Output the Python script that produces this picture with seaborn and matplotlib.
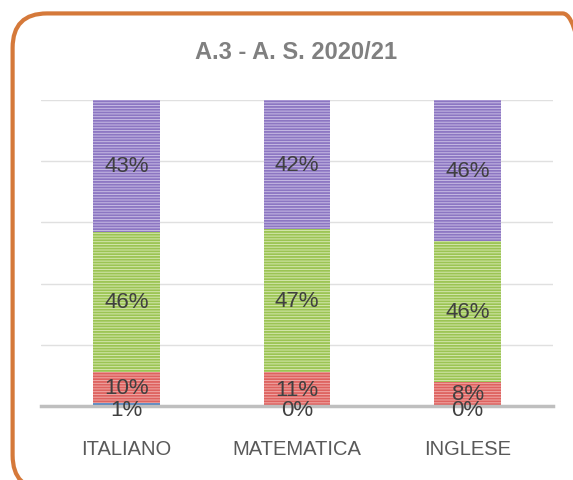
import numpy as np
import pandas as pd
import matplotlib.pyplot as plt
import seaborn as sns
from matplotlib.patches import FancyBboxPatch

# data (percent of students per level)
subjects = ['ITALIANO', 'MATEMATICA', 'INGLESE']
livello_1 = [1, 0, 0]
livello_2 = [10, 11, 8]
livello_3 = [46, 47, 46]
livello_4 = [43, 42, 46]

layers = [livello_1, livello_2, livello_3, livello_4]
face_cols = ['#9DB9E6', '#F0A9A7', '#D5E7AE', '#C8BCE4']
line_cols = ['#4F81BD', '#DE625F', '#9BC453', '#8C76C2']

sns.set_style('white')
plt.rcParams['font.family'] = ['Liberation Sans Narrow', 'Liberation Sans', 'DejaVu Sans']
plt.rcParams['hatch.linewidth'] = 1.3

fig = plt.figure(figsize=(5.73, 4.81), dpi=100)
ax = fig.add_axes([0.0716, 0.1538, 0.8935, 0.6362])

# rounded orange frame (cut off at right/bottom like the screenshot)
frame = FancyBboxPatch((0.022, -0.02), 1.02, 0.99, boxstyle='round,pad=0,rounding_size=0.06',
                       transform=fig.transFigure, facecolor='none', edgecolor='#D5793A',
                       linewidth=3, mutation_aspect=573 / 481, zorder=0)
fig.patches.append(frame)

cum = np.cumsum(np.array(layers), axis=0)
df = pd.DataFrame({'subject': subjects})

# draw cumulative bars from the top layer down so the lower ones sit in front
for i in range(len(layers) - 1, -1, -1):
    df['val'] = cum[i]
    sns.barplot(data=df, x='subject', y='val', ax=ax, color=face_cols[i], width=0.39,
                saturation=1, hatch='------', edgecolor=line_cols[i], linewidth=0, zorder=2)

for j in range(len(subjects)):
    for i in range(len(layers)):
        base = cum[i][j] - layers[i][j]
        y = base + layers[i][j] / 2
        if i == 0:
            y = -1.0
        ax.text(j, y, f'{layers[i][j]}%', ha='center', va='center', fontsize=16,
                color='#404040', zorder=5)

ax.set_ylim(0, 100)
ax.set_xlim(-0.5, 2.5)
ax.set_yticks([0, 20, 40, 60, 80, 100])
ax.set_yticklabels([])
ax.yaxis.grid(True, color='#E0E0E0', linewidth=1)
ax.set_axisbelow(True)
ax.set_xlabel('')
ax.set_ylabel('')
ax.tick_params(axis='x', length=0, pad=24, labelsize=14.5, labelcolor='#595959')
ax.tick_params(axis='y', length=0)
for s in ['top', 'right', 'left']:
    ax.spines[s].set_visible(False)
ax.spines['bottom'].set_color('#BFBFBF')
ax.spines['bottom'].set_linewidth(2.5)
ax.spines['bottom'].set_zorder(4)

fig.text(0.517, 0.89, 'A.3 - A. S. 2020/21', ha='center', va='center', fontsize=17,
         color='#808080', fontweight='bold')

fig.savefig('out.png', dpi=100)
